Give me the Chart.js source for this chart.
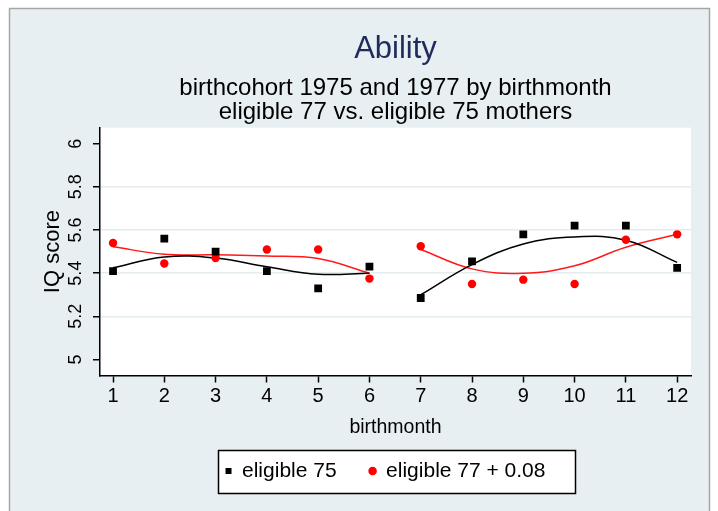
<!DOCTYPE html>
<html>
<head>
<meta charset="utf-8">
<script src="https://cdn.jsdelivr.net/npm/chart.js@4"></script>
<style>
  html, body { margin: 0; padding: 0; background: #fff; }
  #wrap { width: 718px; height: 511px; }
</style>
</head>
<body>
<div id="wrap"><canvas id="c" width="718" height="511"></canvas></div>
<script>
const MONTHS = [1, 2, 3, 4, 5, 6, 7, 8, 9, 10, 11, 12];
const Y_TICKS = [5, 5.2, 5.4, 5.6, 5.8, 6];
const Y_TICK_LABELS = ["5", "5.2", "5.4", "5.6", "5.8", "6"];

// observed means
const elig75 = [5.41, 5.56, 5.50, 5.41, 5.33, 5.43, 5.285, 5.455, 5.58, 5.62, 5.62, 5.425];
const elig77 = [5.54, 5.445, 5.47, 5.51, 5.51, 5.375, 5.525, 5.35, 5.37, 5.35, 5.555, 5.58];

// smoothed fits, one per half of the year
const fitMonthsEarly = [1, 2, 3, 4, 5, 6];
const fitMonthsLate = [7, 8, 9, 10, 11, 12];
const fit75Early = [5.425, 5.475, 5.47, 5.43, 5.395, 5.40];
const fit75Late = [5.30, 5.44, 5.535, 5.568, 5.553, 5.45];
const fit77Early = [5.522, 5.488, 5.485, 5.48, 5.468, 5.40];
const fit77Late = [5.51, 5.42, 5.40, 5.434, 5.52, 5.58];

const pts = (xs, ys) => xs.map((x, i) => ({ x, y: ys[i] }));
const fitLine = (xs, ys, color) => ({
  label: "fit", data: pts(xs, ys), showLine: true, borderColor: color, borderWidth: 1.5,
  pointRadius: 0, tension: 0.4, fill: false, order: 2,
});

const font = { family: "'Liberation Sans', Arial, sans-serif" };

function legendBox(lg) {
  const hb = lg.legendHitBoxes;
  const l = Math.round(Math.min(...hb.map((b) => b.left)) - 8);
  const r = Math.round(Math.max(...hb.map((b) => b.left + b.width)) + 30);
  const cy = hb[0].top + hb[0].height / 2;
  return { l, t: Math.round(cy - 21), w: r - l, h: 43 };
}

const frame = {
  id: "frame",
  afterLayout(chart) {
    // stata centres the legend box (with its wide right margin) under the plot
    const lg = chart.legend;
    if (lg) { lg.left += 20; lg.right += 20; }
  },
  beforeDraw(chart) {
    const { ctx, chartArea: a } = chart;
    ctx.save();
    ctx.fillStyle = "#ffffff";
    ctx.fillRect(0, 0, chart.width, chart.height);
    ctx.fillStyle = "#e8eff2";
    ctx.fillRect(10, 8, 700, 520);
    ctx.strokeStyle = "#a6a6a6";
    ctx.lineWidth = 1.5;
    ctx.strokeRect(9.5, 8.5, 700, 520);
    ctx.fillStyle = "#ffffff";
    ctx.fillRect(a.left, a.top, a.right - a.left, a.bottom - a.top);
    const lg = chart.legend;
    if (lg && lg.legendHitBoxes.length) {
      const b = legendBox(lg);
      ctx.fillRect(b.l, b.t, b.w, b.h);
    }
    ctx.restore();
  },
  afterDraw(chart) {
    const { ctx } = chart;
    const y = chart.scales.y;
    ctx.save();
    ctx.fillStyle = "#000";
    ctx.font = "18px " + font.family;
    ctx.textAlign = "center";
    ctx.textBaseline = "middle";
    Y_TICKS.forEach((v, i) => {
      ctx.save();
      ctx.translate(76, y.getPixelForValue(v));
      ctx.rotate(-Math.PI / 2);
      ctx.fillText(Y_TICK_LABELS[i], 0, 0);
      ctx.restore();
    });
    const lg = chart.legend;
    if (lg && lg.legendHitBoxes.length) {
      const b = legendBox(lg);
      ctx.strokeStyle = "#000";
      ctx.lineWidth = 1.5;
      ctx.strokeRect(b.l + 0.5, b.t + 0.5, b.w, b.h);
    }
    ctx.restore();
  },
};

new Chart(document.getElementById("c"), {
  type: "scatter",
  data: {
    datasets: [
      { label: "eligible 75", data: pts(MONTHS, elig75), pointStyle: "rect", pointRadius: 5.5,
        backgroundColor: "#000", borderColor: "#000", borderWidth: 0, order: 1 },
      { label: "eligible 77 + 0.08", data: pts(MONTHS, elig77), pointStyle: "circle", pointRadius: 4.2,
        backgroundColor: "#ff0000", borderColor: "#ff0000", borderWidth: 0, order: 1 },
      fitLine(fitMonthsEarly, fit75Early, "#000"),
      fitLine(fitMonthsLate, fit75Late, "#000"),
      fitLine(fitMonthsEarly, fit77Early, "#ff1a1a"),
      fitLine(fitMonthsLate, fit77Late, "#ff1a1a"),
    ],
  },
  options: {
    responsive: false, animation: false,
    layout: { padding: { left: 40, right: 27, top: 0, bottom: 19.5 } },
    plugins: {
      title: { display: true, fullSize: false, text: "Ability", color: "#1e2b5c",
        font: { ...font, size: 31, weight: "normal", lineHeight: 1.2 }, padding: { top: 31, bottom: 0 } },
      subtitle: { display: true, fullSize: false,
        text: ["birthcohort 1975 and 1977 by birthmonth", "eligible 77 vs. eligible 75 mothers"],
        color: "#000", font: { ...font, size: 24, lineHeight: 1.0 }, padding: { top: 8.5, bottom: 3 } },
      legend: {
        position: "bottom",
        labels: {
          color: "#000", font: { ...font, size: 21 }, usePointStyle: true, boxWidth: 6, boxHeight: 6, padding: 33,
          filter: (item) => item.text !== "fit",
        },
      },
      tooltip: { enabled: false },
    },
    scales: {
      x: {
        type: "linear", min: 0.746, max: 12.27,
        afterBuildTicks: (s) => { s.ticks = MONTHS.map((v) => ({ value: v })); },
        afterFit: (s) => { s.height = 52; },
        grid: { drawOnChartArea: false, tickLength: 7, color: "#000", tickWidth: 1.5 },
        border: { color: "#000", width: 1.5 },
        ticks: { color: "#000", font: { ...font, size: 20 }, padding: 2, callback: (v) => String(v) },
        title: { display: true, text: "birthmonth", color: "#000", font: { ...font, size: 19.5 }, padding: { top: 0, bottom: -12.2 } },
      },
      y: {
        type: "linear", min: 4.926, max: 6.074,
        afterBuildTicks: (s) => { s.ticks = Y_TICKS.map((v) => ({ value: v })); },
        afterFit: (s) => { s.width = 60; },
        grid: {
          tickLength: 7, tickWidth: 1.5, lineWidth: 1.5,
          color: (ctx) => (ctx.tick && (ctx.tick.value === 5 || ctx.tick.value === 6) ? "rgba(0,0,0,0)" : "#e4ecf0"),
          tickColor: "#000",
        },
        border: { color: "#000", width: 1.5 },
        ticks: { display: false },
        title: { display: true, text: "IQ score", color: "#000", font: { ...font, size: 22 }, padding: { top: 0, bottom: 0 } },
      },
    },
  },
  plugins: [frame],
});
</script>
</body>
</html>
